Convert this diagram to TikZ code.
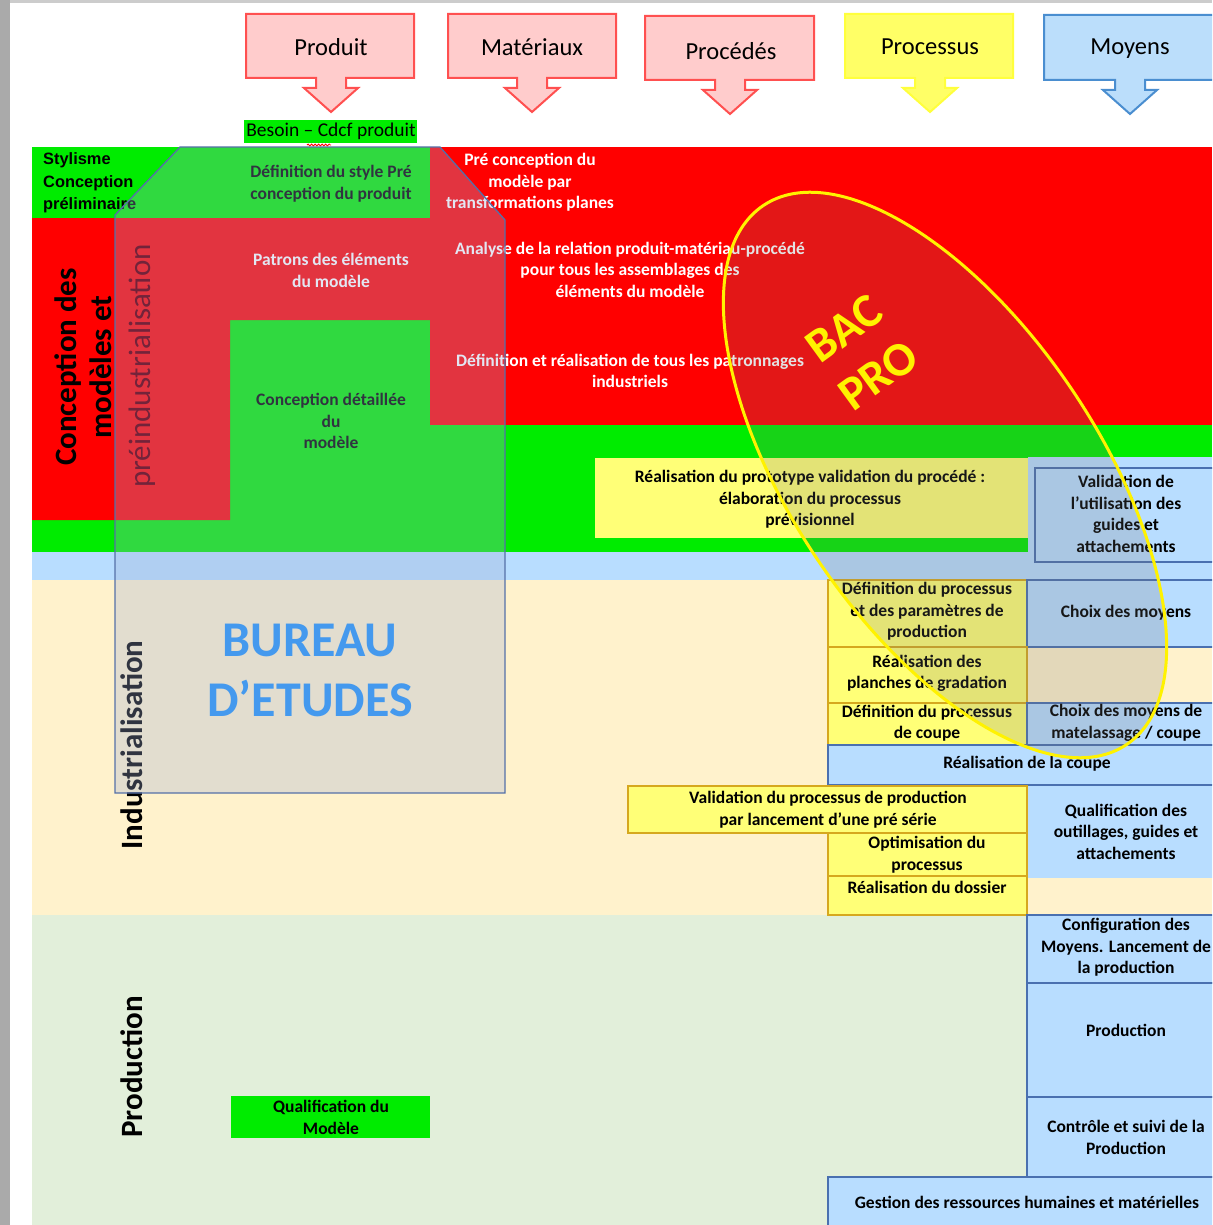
\documentclass[tikz,border=0pt]{standalone}
\usepackage{fontspec}
\setmainfont{Carlito}
\newfontfamily\arialf{Liberation Sans}
\usetikzlibrary{decorations.pathmorphing}

\definecolor{cgreen}{RGB}{0,236,0}
\definecolor{cred}{RGB}{255,0,0}
\definecolor{clblue}{RGB}{184,221,255}
\definecolor{ccream}{RGB}{255,242,204}
\definecolor{cpgreen}{RGB}{226,239,218}
\definecolor{cyel}{RGB}{255,255,119}
\definecolor{cgold}{RGB}{214,168,30}
\definecolor{cbord}{RGB}{74,112,176}
\definecolor{cpink}{RGB}{255,204,204}
\definecolor{cpinkb}{RGB}{255,80,80}
\definecolor{chyel}{RGB}{255,255,102}
\definecolor{chyelb}{RGB}{255,255,60}
\definecolor{chblue}{RGB}{187,222,251}
\definecolor{chblueb}{RGB}{74,142,208}
\definecolor{cover}{RGB}{160,175,215}
\definecolor{coverb}{RGB}{85,112,168}
\definecolor{cbureau}{RGB}{68,153,238}
\definecolor{cpreind}{RGB}{115,35,58}
\definecolor{cframe}{RGB}{170,170,170}

\newcommand{\hdrshape}[8]{% x1 x2 y1 y2 cx ty fill draw
  \draw[fill=#7,draw=#8,line width=2pt,line join=miter]
    (#1,#3) -- (#2,#3) -- (#2,#4) -- (#5+15,#4) -- (#5+15,#4+10) -- (#5+27,#4+10)
    -- (#5,#6) -- (#5-27,#4+10) -- (#5-15,#4+10) -- (#5-15,#4) -- (#1,#4) -- cycle;}

\begin{document}
\begin{tikzpicture}[x=1pt,y=-1pt,
  txt/.style={align=center,font=\fontsize{17.5}{21.5}\selectfont\bfseries,inner sep=0pt},
  wtxt/.style={txt,text=white},
  hdr/.style={font=\fontsize{24.5}{28}\selectfont,inner sep=0pt},
  ybox/.style={fill=cyel,draw=cgold,line width=1.5pt},
  bbox/.style={fill=clblue,draw=cbord,line width=1.5pt},
  vlab/.style={rotate=90,font=\fontsize{31}{35}\selectfont\bfseries,inner sep=0pt,align=center},
]
\useasboundingbox (0,0) rectangle (1212,1225);
\clip (0,0) rectangle (1212,1225);
\fill[white] (0,0) rectangle (1212,1225);
\fill[cframe] (0,0) rectangle (10,1225);
\fill[cframe!60] (10,0) rectangle (1212,3);

% header callouts
\hdrshape{246}{414}{14}{78}{331}{112}{cpink}{cpinkb}
\hdrshape{448}{616}{14}{78}{532}{112}{cpink}{cpinkb}
\hdrshape{645}{814}{16}{80}{730}{114}{cpink}{cpinkb}
\hdrshape{845}{1013}{14}{78}{930}{112}{chyel}{chyelb}
\hdrshape{1044}{1220}{15}{80}{1130}{114}{chblue}{chblueb}
\node[hdr] (hprod) at (331,47) {Produit};
\node[hdr] (hmat) at (532,47) {Matériaux};
\node[hdr] (hproc) at (731,51) {Procédés};
\node[hdr] (hprocess) at (930,47) {Processus};
\node[hdr] (hmoy) at (1130,49) {Moyens};

% besoin
\fill[cgreen] (244,120) rectangle (417,143);
\node[font=\fontsize{19.5}{22}\selectfont,inner sep=0pt] (besoin) at (331,131) {Besoin – Cdcf produit};

% bands
\fill[cgreen] (32,147) rectangle (1212,552);
\fill[clblue] (32,552) rectangle (1212,580);
\fill[clblue] (1028,457) rectangle (1212,552);
\fill[ccream] (32,580) rectangle (1212,915);
\fill[cpgreen] (32,915) rectangle (1212,1225);
\fill[cred] (430,147) rectangle (1212,425);
\fill[cred] (32,218) -- (430,218) -- (430,320) -- (230,320) -- (230,520) -- (32,520) -- cycle;
\draw[red,line width=0.8pt,decorate,decoration={snake,amplitude=1pt,segment length=3.5pt}] (307,145) -- (331,145);

% boxes
\fill[cyel] (595,458) rectangle (1028,538);
\draw[bbox] (1035,468) rectangle (1216,562);
\draw[ybox] (828,580) rectangle (1027,647);
\draw[bbox] (1027,580) rectangle (1216,647);
\draw[ybox] (828,647) rectangle (1027,703);
\draw[ybox] (828,703) rectangle (1027,745);
\draw[bbox] (1027,703) rectangle (1216,745);
\draw[bbox] (828,745) rectangle (1216,785);
\fill[clblue] (1027,786) rectangle (1216,878);
\draw[ybox] (628,786) rectangle (1027,833);
\draw[ybox] (828,833) rectangle (1027,876);
\draw[ybox] (828,876) rectangle (1027,915);
\draw[bbox] (1027,915) rectangle (1216,983);
\draw[bbox] (1027,983) rectangle (1216,1097);
\draw[bbox] (1027,1097) rectangle (1216,1177);
\draw[bbox] (828,1177) rectangle (1216,1230);
\fill[cgreen] (231,1096) rectangle (430,1138);

% texts
\node[anchor=west,align=left,inner sep=0pt,font=\arialf\fontsize{16.4}{22.5}\selectfont\bfseries] (styl) at (43,183) {Stylisme\\Conception\\préliminaire};
\node[vlab,font=\fontsize{31}{35}\selectfont\bfseries] (lconc) at (83,367) {Conception des\\modèles et};
\node[vlab] (lind) at (132,745) {Industrialisation};
\node[vlab] (lprodn) at (132,1067) {Production};

\node[txt] (tdef) at (331,183.5) {Définition du style Pré\\conception du produit};
\node[wtxt] (tpre) at (530,182.5) {Pré conception du\\modèle par\\transformations planes};
\node[wtxt] (tpat) at (331,270.5) {Patrons des éléments\\du modèle};
\node[wtxt] (tana) at (630,269.5) {Analyse de la relation produit-matériau-procédé\\pour tous les assemblages des\\éléments du modèle};
\node[wtxt] (tdefr) at (630,371) {Définition et réalisation de tous les patronnages\\industriels};
\node[txt] (tcdet) at (331,421) {Conception détaillée\\du\\modèle};
\node[txt] (tproto) at (810,499.5) {Réalisation du prototype validation du procédé :\\élaboration du processus\\prévisionnel};
\node[txt] (tvalg) at (1126,514) {Validation de\\l’utilisation des\\guides et\\attachements};
\node[txt] (tdpp) at (927,611.5) {Définition du processus\\et des paramètres de\\production};
\node[txt] (tchm) at (1126,613) {Choix des moyens};
\node[txt] (tplan) at (927,673.5) {Réalisation des\\planches de gradation};
\node[txt] (tdpc) at (927,723) {Définition du processus\\de coupe};
\node[txt] (tchmc) at (1126,723) {Choix des moyens de\\matelassage / coupe};
\node[txt] (tcoupe) at (1027,764) {Réalisation de la coupe};
\node[txt] (tvalp) at (828,809.5) {Validation du processus de production\\par lancement d’une pré série};
\node[txt] (tqual) at (1126,831.5) {Qualification des\\outillages, guides et\\attachements};
\node[txt] (topt) at (927,854.5) {Optimisation du\\processus};
\node[txt] (tdoss) at (927,887) {Réalisation du dossier};
\node[txt] (tconf) at (1126,947.5) {Configuration des\\Moyens. Lancement de\\la production};
\node[txt] (tprod) at (1126,1030) {Production};
\node[txt] (tctrl) at (1126,1137.5) {Contrôle et suivi de la\\Production};
\node[txt] (tgest) at (1027,1202) {Gestion des ressources humaines et matérielles};
\node[txt] (tqmod) at (331,1117.5) {Qualification du\\Modèle};

% bureau d'etudes overlay
\draw[fill=cover,fill opacity=0.3,draw=coverb,line width=1.3pt]
  (180,147) -- (440,147) -- (505,220) -- (505,793) -- (115,793) -- (115,215) -- cycle;
\node[vlab,font=\fontsize{31}{35}\selectfont,text=cpreind] (lpre) at (142,366) {préindustrialisation};
% BAC PRO ellipse
\draw[fill=black!55,fill opacity=0.2,draw=yellow,line width=3pt,rotate around={-56:(945,475)}]
  (945,475) ellipse [x radius=325pt, y radius=153pt];

\node[font=\fontsize{50}{60}\selectfont\bfseries,text=cbureau,align=center,inner sep=0pt] (bureau) at (310,670) {BUREAU\\D’ETUDES};
\node[rotate=36,font=\fontsize{48}{58}\selectfont\bfseries,text=yellow,align=center,inner sep=0pt] (bac) at (861,352) {BAC\\PRO};
\end{tikzpicture}
\end{document}
